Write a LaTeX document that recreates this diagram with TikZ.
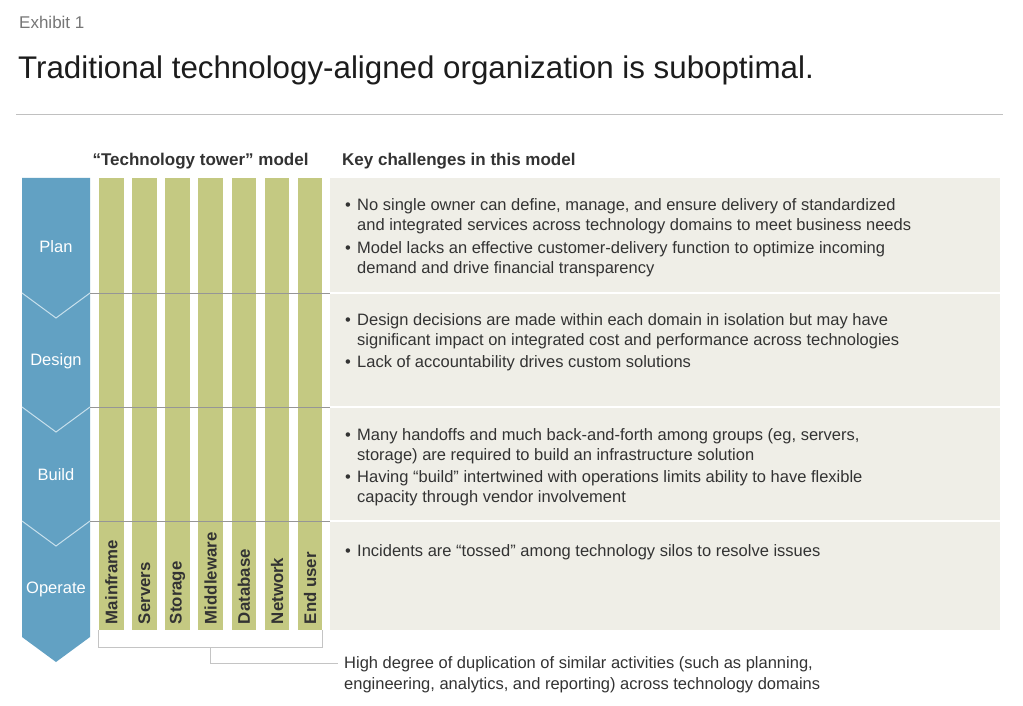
\documentclass[tikz,border=0pt]{standalone}
\usepackage{fontspec}
\setmainfont{Liberation Sans}
\usetikzlibrary{calc}
\definecolor{towerblue}{RGB}{98,161,195}
\definecolor{towergreen}{RGB}{196,201,130}
\definecolor{panelgray}{RGB}{239,238,231}
\definecolor{textgray}{RGB}{51,51,51}
\definecolor{exhibitgray}{RGB}{118,118,118}
\definecolor{titleblack}{RGB}{28,28,28}
\definecolor{rulegray}{RGB}{192,192,192}
\definecolor{rowgray}{RGB}{150,150,150}
\definecolor{bracketgray}{RGB}{196,196,196}
\definecolor{chevronwhite}{RGB}{200,224,236}
\tikzset{% styles for the tower picture
    tower/.style={fill=towergreen, minimum width=24.5pt, minimum height=452pt, inner sep=0},
    towerlabel/.style={rotate=90, anchor=west, inner sep=0, font=\fontsize{16.8}{20}\selectfont\bfseries, text=textgray},
    stage/.style={inner sep=0, text=white, font=\fontsize{16.5}{20}\selectfont},
    chevron/.style={draw=chevronwhite, line width=1pt},
    rowline/.style={draw=rowgray, line width=.8pt},
    challenge/.style={anchor=base west, align=left, inner sep=0, font=\fontsize{16.5}{20}\selectfont, text=textgray},
    heading/.style={anchor=base west, inner sep=0, font=\fontsize{17}{20}\selectfont\bfseries, text=textgray},
    bracket/.style={draw=bracketgray, line width=1pt}
}
\newcommand{\bulitem}{\makebox[12pt][l]{\textbullet}}
\newcommand{\bulindent}{\hspace*{12pt}}
\begin{document}
\begin{tikzpicture}[x=1pt, y=-1pt]
		\newcommand{\barx}{111.25}
		\newcommand{\barpitch}{33.15}
		\newcommand{\bary}{404}
		\newcommand{\panelx}{330}
		\newcommand{\panelend}{1000}

		\fill[white] (0,0) rectangle (1023,706);
		\useasboundingbox (0,0) rectangle (1023,706);

		% title
		\node[anchor=base west, inner sep=0, font=\fontsize{17}{20}\selectfont, text=exhibitgray] (exhibit) at (19,29) {Exhibit 1};
		\node[anchor=base west, inner sep=0, font=\fontsize{31.3}{36}\selectfont, text=titleblack] (title) at (18,79) {Traditional technology-aligned organization is suboptimal.};
		\draw[rulegray, line width=1pt] (16,115) -- (1003,115);

		% headings
		\node[heading, anchor=base] (towerhead) at (200.5,166) {“Technology tower” model};
		\node[heading] (keyhead) at (342,166) {Key challenges in this model};

		% stages
		\fill[towerblue] (22,178) -- (90,178) -- (90,637) -- (56,662) -- (22,637) -- cycle;
		\draw[chevron] (22,293) -- (56,318) -- (90,293);
		\draw[chevron] (22,407) -- (56,432) -- (90,407);
		\draw[chevron] (22,521) -- (56,546) -- (90,521);
		\node[stage] (plan) at (56,247) {Plan};
		\node[stage] (design) at (56,361) {Design};
		\node[stage] (build) at (56,475) {Build};
		\node[stage] (operate) at (56,589) {Operate};

		% towers
		\node[tower] (mainframe) at (\barx+0*\barpitch,\bary) {};
		\node[tower] (servers) at (\barx+1*\barpitch,\bary) {};
		\node[tower] (storage) at (\barx+2*\barpitch,\bary) {};
		\node[tower] (middleware) at (\barx+3*\barpitch,\bary) {};
		\node[tower] (database) at (\barx+4*\barpitch,\bary) {};
		\node[tower] (network) at (\barx+5*\barpitch,\bary) {};
		\node[tower] (enduser) at (\barx+6*\barpitch,\bary) {};
		\node[towerlabel] (mainframe-l) at ([yshift=6pt]mainframe.south) {Mainframe};
		\node[towerlabel] (servers-l) at ([yshift=6pt]servers.south) {Servers};
		\node[towerlabel] (storage-l) at ([yshift=6pt]storage.south) {Storage};
		\node[towerlabel] (middleware-l) at ([yshift=6pt]middleware.south) {Middleware};
		\node[towerlabel] (database-l) at ([yshift=6pt]database.south) {Database};
		\node[towerlabel] (network-l) at ([yshift=6pt]network.south) {Network};
		\node[towerlabel] (enduser-l) at ([yshift=6pt]enduser.south) {End user};

		% challenge panels
		\fill[panelgray] (\panelx,178) rectangle (\panelend,292.2);
		\fill[panelgray] (\panelx,293.8) rectangle (\panelend,406.2);
		\fill[panelgray] (\panelx,407.8) rectangle (\panelend,520.2);
		\fill[panelgray] (\panelx,521.8) rectangle (\panelend,630);
		\draw[rowline] (90,293) -- (\panelx,293);
		\draw[rowline] (90,407) -- (\panelx,407);
		\draw[rowline] (90,521) -- (\panelx,521);

		% challenges (base = last line)
		\node[challenge] (plan-a) at (345,230) {\bulitem No single owner can define, manage, and ensure delivery of standardized\\\bulindent and integrated services across technology domains to meet business needs};
		\node[challenge] (plan-b) at (345,273) {\bulitem Model lacks an effective customer-delivery function to optimize incoming\\\bulindent demand and drive financial transparency};
		\node[challenge] (design-a) at (345,345) {\bulitem Design decisions are made within each domain in isolation but may have\\\bulindent significant impact on integrated cost and performance across technologies};
		\node[challenge] (design-b) at (345,367) {\bulitem Lack of accountability drives custom solutions};
		\node[challenge] (build-a) at (345,460) {\bulitem Many handoffs and much back-and-forth among groups (eg, servers,\\\bulindent storage) are required to build an infrastructure solution};
		\node[challenge] (build-b) at (345,502) {\bulitem Having “build” intertwined with operations limits ability to have flexible\\\bulindent capacity through vendor involvement};
		\node[challenge] (operate-a) at (345,556) {\bulitem Incidents are “tossed” among technology silos to resolve issues};

		% duplication bracket
		\draw[bracket] (mainframe.south west) -- ++(0,17) -| (enduser.south east);
		\coordinate (bracketmid) at ($(mainframe.south west)!0.5!(enduser.south east)+(0,17)$);
		\coordinate (duplin) at (338,663);
		\draw[bracket] (bracketmid) |- (duplin);
		\node[challenge, font=\fontsize{16.5}{21}\selectfont] (dupl) at (344,689) {High degree of duplication of similar activities (such as planning,\\engineering, analytics, and reporting) across technology domains};
\end{tikzpicture}
\end{document}
